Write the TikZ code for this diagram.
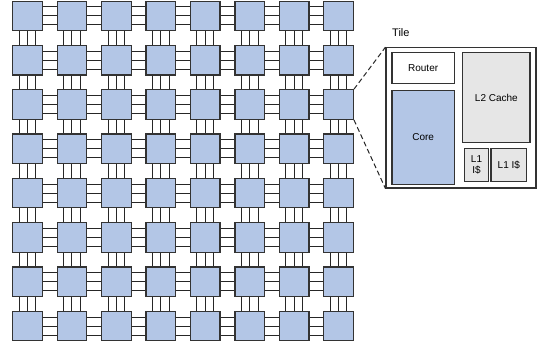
\documentclass[tikz,border=0pt]{standalone}
\usepackage{fontspec}
\setmainfont{Liberation Sans}
\definecolor{tileblue}{HTML}{B3C6E6}
\definecolor{cachegray}{HTML}{E6E6E6}
\definecolor{edgegray}{HTML}{333333}
\begin{document}
\begin{tikzpicture}[x=1pt,y=-1pt,
  tile/.style={draw=edgegray,line width=1.2pt,fill=tileblue,minimum width=29.5pt,minimum height=29.5pt,inner sep=0pt},
  link/.style={draw=black!85,line width=1pt},
  block/.style={draw=edgegray,line width=1.1pt,inner sep=0pt,align=center,font=\fontsize{10}{11}\selectfont},
  zoomline/.style={draw=black!85,line width=1pt,dash pattern=on 5pt off 3pt}]
\useasboundingbox (0,0) rectangle (542,347);
% tiles
\foreach \i in {0,...,7}{
  \foreach \j in {0,...,7}{
    \node[tile] (t\i\j) at ({27.45+44.45*\i},{15.95+44.3*\j}) {};
  }
}
% horizontal links
\foreach \i in {0,...,6}{
  \pgfmathtruncatemacro\k{\i+1}
  \foreach \j in {0,...,7}{
    \foreach \d in {-9,0,9}{
      \draw[link] ([yshift=\d pt]t\i\j.east) -- ([yshift=\d pt]t\k\j.west);
    }
  }
}
% vertical links
\foreach \i in {0,...,7}{
  \foreach \j in {0,...,6}{
    \pgfmathtruncatemacro\k{\j+1}
    \foreach \d in {-8.3,0,8.3}{
      \draw[link] ([xshift=\d pt]t\i\j.south) -- ([xshift=\d pt]t\i\k.north);
    }
  }
}
% detail
\node[anchor=west,font=\fontsize{11}{13}\selectfont,inner sep=0pt] (lbl) at (392,32.7) {Tile};
\node[block,fill=white,minimum width=150pt,minimum height=140.3pt] (detail) at (461,117.85) {};
\node[block,fill=white,minimum width=62.3pt,minimum height=31pt] (router) at (423.15,67.8) {Router};
\node[block,fill=tileblue,minimum width=62.3pt,minimum height=93.6pt] (core) at (423.15,137.5) {Core};
\node[block,fill=cachegray,minimum width=67.3pt,minimum height=90.4pt] (l2) at (496.35,97.5) {L2 Cache};
\node[block,fill=cachegray,minimum width=24.4pt,minimum height=33pt] (l1a) at (476.5,164.8) {L1\\I\$};
\node[block,fill=cachegray,minimum width=35.7pt,minimum height=33pt] (l1b) at (508.85,164.8) {L1 I\$};
\draw[zoomline] (t72.north east) -- (detail.north west);
\draw[zoomline] (t72.south east) -- (detail.south west);
\end{tikzpicture}
\end{document}
